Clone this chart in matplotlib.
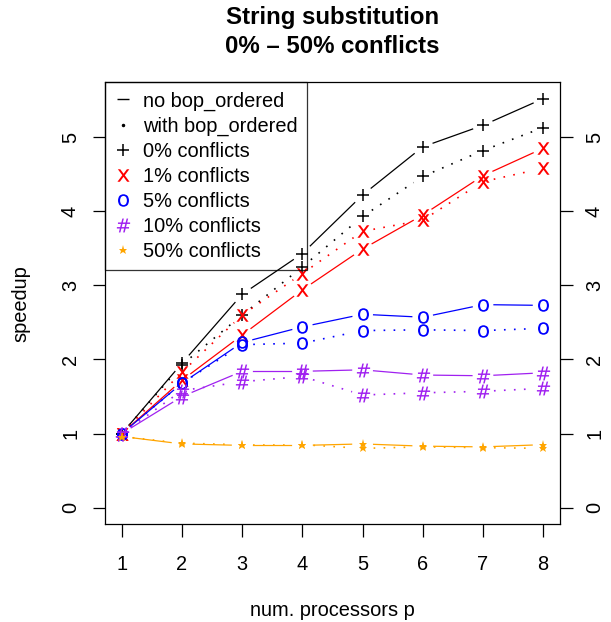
import numpy as np
import matplotlib
matplotlib.use("Agg")
import matplotlib.pyplot as plt
from matplotlib.lines import Line2D

plt.rcParams['font.family'] = ['Liberation Sans', 'DejaVu Sans']

# data
procs = [1, 2, 3, 4, 5, 6, 7, 8]
labels = ["0% conflicts", "1% conflicts", "5% conflicts", "10% conflicts", "50% conflicts"]
colors = ["black", "red", "blue", "#A020F0", "orange"]
markers = ["+", "$\\mathsf{x}$", "$\\mathsf{o}$", "$\\#$", "*"]
msizes = [9, 9, 9, 10, 6.5]
mews = [1.1, 0, 0, 0, 0]

no_bop = [
    [1.00, 1.95, 2.88, 3.43, 4.22, 4.87, 5.16, 5.52],
    [1.00, 1.72, 2.33, 2.94, 3.49, 3.95, 4.48, 4.85],
    [1.00, 1.68, 2.23, 2.44, 2.61, 2.57, 2.74, 2.73],
    [1.00, 1.50, 1.84, 1.84, 1.86, 1.79, 1.78, 1.82],
    [0.96, 0.86, 0.84, 0.84, 0.86, 0.83, 0.82, 0.85],
]
with_bop = [
    [1.00, 1.93, 2.60, 3.25, 3.93, 4.47, 4.82, 5.13],
    [1.00, 1.83, 2.60, 3.16, 3.73, 3.88, 4.40, 4.58],
    [1.00, 1.68, 2.20, 2.22, 2.39, 2.40, 2.39, 2.42],
    [1.00, 1.58, 1.70, 1.77, 1.52, 1.55, 1.57, 1.61],
    [0.96, 0.87, 0.85, 0.85, 0.80, 0.82, 0.81, 0.80],
]

fig = plt.figure(figsize=(6.11, 6.22), dpi=100)
ax = fig.add_axes([105/611, 98/622, 455/611, 441.7/622])
ymax = max(max(s) for s in no_bop + with_bop)
ax.set_xlim(1 - 0.04*7, 8 + 0.04*7)
ax.set_ylim(-0.04*ymax, ymax*1.04)


def gapped(x, y, gap=11, **kw):
    # R type="b": segments stop short of the points
    pts = ax.transData.transform(np.column_stack([x, y]))
    inv = ax.transData.inverted()
    for a, b in zip(pts[:-1], pts[1:]):
        d = b - a
        L = np.hypot(*d)
        if L <= 2*gap:
            continue
        u = d / L
        seg = inv.transform(np.array([a + u*gap, b - u*gap]))
        ax.plot(seg[:, 0], seg[:, 1], **kw)


for i in range(len(labels)):
    c = colors[i]
    gapped(procs, no_bop[i], color=c, lw=0.9)
    gapped(procs, with_bop[i], color=c, lw=1.2, linestyle=(0, (1, 5)))
    ax.plot(procs, no_bop[i], linestyle='none', marker=markers[i], color=c,
            ms=msizes[i], mew=mews[i])
    ax.plot(procs, with_bop[i], linestyle='none', marker=markers[i], color=c,
            ms=msizes[i], mew=mews[i])

ax.set_xticks(procs)
ax.set_yticks(range(6))
ax.tick_params(axis='both', direction='out', length=9, width=0.9,
               labelsize=14.4, colors='black')
ax.tick_params(axis='x', pad=13)
ax.tick_params(axis='y', right=True, labelright=True, pad=9)
for t in ax.get_yticklabels(which='both'):
    t.set_rotation(90)
    t.set_va('center')
for sp in ax.spines.values():
    sp.set_linewidth(0.9)

ax.set_xlabel("num. processors p", fontsize=14.4, labelpad=20)
ax.set_ylabel("speedup", fontsize=14.4, labelpad=22)
ax.set_title("String substitution\n0% – 50% conflicts", fontsize=17.3,
             fontweight='bold', linespacing=1.33, pad=21)

handles = [
    Line2D([], [], ls='none', marker='_', color='black', ms=9, mew=1.0),
    Line2D([], [], ls='none', marker='.', color='black', ms=3),
]
for i in range(len(labels)):
    handles.append(Line2D([], [], ls='none', marker=markers[i], color=colors[i],
                          ms=msizes[i], mew=mews[i]))
leg = ax.legend(handles, ["no bop_ordered", "with bop_ordered"] + labels,
                loc='upper left', fontsize=14.4, frameon=True, fancybox=False,
                borderaxespad=0, borderpad=0.45, handlelength=0.9,
                handletextpad=0.55, labelspacing=0.3, facecolor='none',
                edgecolor='black')
leg.get_frame().set_linewidth(0.9)

fig.savefig("out.png", dpi=100)
